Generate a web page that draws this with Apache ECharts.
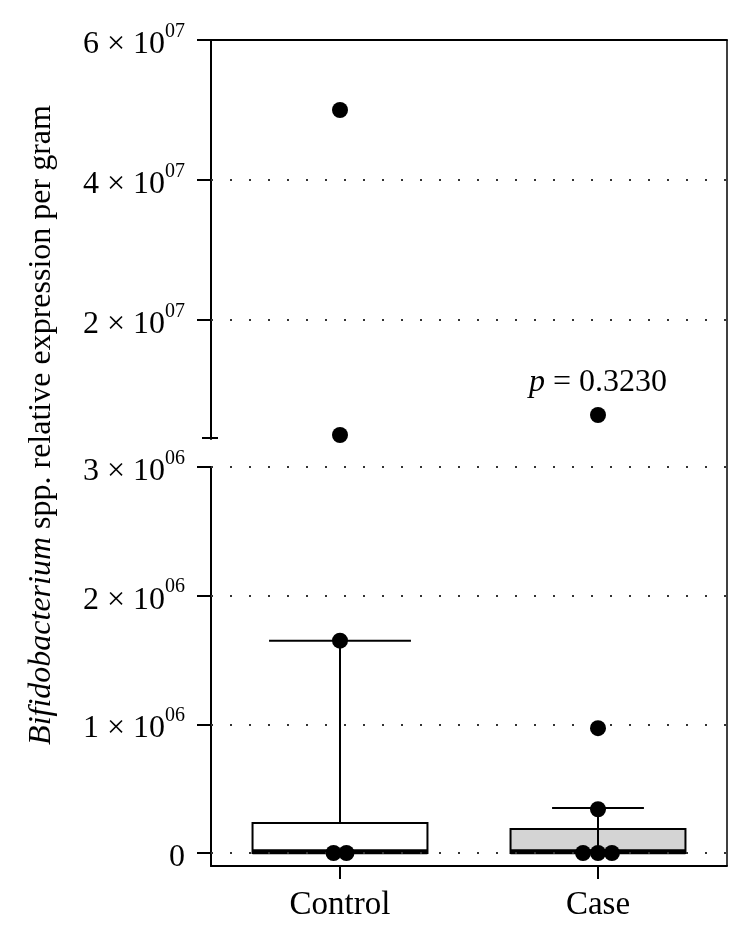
<!DOCTYPE html>
<html><head><meta charset="utf-8">
<script src="https://cdn.jsdelivr.net/npm/echarts@6/dist/echarts.min.js"></script>
<style>html,body{margin:0;padding:0;background:#fff}#c{width:750px;height:936px}</style>
</head><body><div id="c"></div>
<script>
// ---- data ----
const categories = ['Control', 'Case'];
const boxLow    = [0, 0];
const boxQ1     = [0, 0];
const boxMedian = [1e4, 1e4];
const boxQ3     = [2.33e5, 1.86e5];
const boxHigh   = [1.65e6, 3.5e5];
const controlValues = [0, 0, 1.65e6, 3.57e6, 5.0e7];
const controlJitter = [-0.025, 0.025, 0, 0, 0];
const caseValues    = [0, 0, 0, 3.4e5, 9.7e5, 6.43e6];
const caseJitter    = [-0.058, 0, 0.054, 0, 0, 0];
const upperTicks = [2e7, 4e7, 6e7];
const lowerTicks = [0, 1e6, 2e6, 3e6];
const breakValue = 3e6;
const upperMax = 6e7;
const lowerMin = -1.01e5;
const pText = '0.3230';

// ---- layout / style ----
const L = 211, R = 727, T0 = 40, B0 = 439, T1 = 467, B1 = 866;
const FONT = '"Liberation Serif", "DejaVu Serif", serif';
const boxFill = ['#ffffff', '#d4d4d4'];
const capHalf = [0.275, 0.178];
const boxHalf = 0.339;
const whiskerFromMedian = [false, true];

function fmt(v) {
  if (v === 0) return '{a|0}';
  const e = Math.floor(Math.log10(v) + 1e-9);
  const m = Math.round(v / Math.pow(10, e));
  return '{a|' + m + ' \u00d7 10}{b|' + String(e).padStart(2, '0') + '}';
}
const richLab = {
  a: { fontFamily: FONT, fontSize: 32, color: '#000', lineHeight: 46 },
  b: { fontFamily: FONT, fontSize: 20, color: '#000', verticalAlign: 'top', lineHeight: 46 }
};

const upperPts = [], lowerPts = [];
function addPts(values, jitter, ci) {
  values.forEach((v, k) => {
    const p = [ci + 1 + jitter[k], v];
    (v > breakValue ? upperPts : lowerPts).push({ value: p, ci: ci });
  });
}
addPts(controlValues, controlJitter, 0);
addPts(caseValues, caseJitter, 1);
// p-value label on the highest Case point
let topCase = null;
upperPts.forEach(d => { if (d.ci === 1 && (!topCase || d.value[1] > topCase.value[1])) topCase = d; });
if (topCase) {
  topCase.label = {
    show: true, position: 'top', distance: 8,
    formatter: '{i|p}{n| = ' + pText + '}',
    rich: {
      i: { fontFamily: FONT, fontStyle: 'italic', fontSize: 32, color: '#000' },
      n: { fontFamily: FONT, fontSize: 32, color: '#000' }
    }
  };
}

const dotted = { color: '#333', width: 2, type: [2, 17] };
const axisLineStyle = { show: true, onZero: false, lineStyle: { color: '#000', width: 2 } };

const boxData = categories.map((c, i) => [i + 1, boxLow[i], boxQ1[i], boxMedian[i], boxQ3[i], boxHigh[i]]);

const chart = echarts.init(document.getElementById('c'), null, { renderer: 'canvas' });
chart.setOption({
  animation: false,
  backgroundColor: '#fff',
  grid: [
    { left: L, width: R - L, top: T0, height: B0 - T0 },
    { left: L, width: R - L, top: T1, height: B1 - T1 }
  ],
  xAxis: [
    { gridIndex: 0, type: 'value', min: 0.5, max: 2.5, position: 'top',
      axisLine: axisLineStyle, axisTick: { show: false }, axisLabel: { show: false }, splitLine: { show: false } },
    { gridIndex: 1, type: 'value', min: 0.5, max: 2.5, position: 'bottom',
      axisLine: axisLineStyle,
      axisTick: { show: true, length: 13, lineStyle: { color: '#000', width: 2 }, customValues: [1, 2] },
      axisLabel: { show: true, customValues: [1, 2], margin: 23,
        formatter: v => categories[Math.round(v) - 1] || '',
        fontFamily: FONT, fontSize: 33, color: '#000' },
      splitLine: { show: false } }
  ],
  yAxis: [
    { gridIndex: 0, type: 'value', min: breakValue, max: upperMax,
      axisLine: axisLineStyle,
      axisTick: { show: true, length: 14, lineStyle: { color: '#000', width: 2 }, customValues: upperTicks },
      axisLabel: { show: true, customValues: upperTicks, margin: 26, padding: [9, 0, 0, 0], formatter: fmt, rich: richLab },
      splitLine: { show: false } },
    { gridIndex: 1, type: 'value', min: lowerMin, max: breakValue,
      axisLine: axisLineStyle,
      axisTick: { show: true, length: 14, lineStyle: { color: '#000', width: 2 }, customValues: lowerTicks },
      axisLabel: { show: true, customValues: lowerTicks, margin: 26, padding: [9, 0, 0, 0], formatter: fmt, rich: richLab },
      splitLine: { show: false } }
  ],
  series: [
    { type: 'line', xAxisIndex: 0, yAxisIndex: 0, data: [], z: 1, silent: true,
      markLine: { silent: true, symbol: 'none', label: { show: false }, lineStyle: dotted,
        data: upperTicks.filter(v => v < upperMax).map(v => ({ yAxis: v })) } },
    { type: 'line', xAxisIndex: 1, yAxisIndex: 1, data: [], z: 1, silent: true,
      markLine: { silent: true, symbol: 'none', label: { show: false }, lineStyle: dotted,
        data: lowerTicks.map(v => ({ yAxis: v })) } },
    { type: 'custom', xAxisIndex: 1, yAxisIndex: 1, z: 3, data: boxData,
      encode: { x: 0, y: [1, 2, 3, 4, 5] },
      renderItem: function (params, api) {
        const i = params.dataIndex;
        const x = api.value(0);
        const q1 = api.value(2), med = api.value(3), q3 = api.value(4), hi = api.value(5);
        const tl = api.coord([x - boxHalf, q3]);
        const br = api.coord([x + boxHalf, q1]);
        const ws = api.coord([x, whiskerFromMedian[i] ? med : q3]);
        const we = api.coord([x, hi]);
        const c0 = api.coord([x - capHalf[i], hi]);
        const c1 = api.coord([x + capHalf[i], hi]);
        const m0 = api.coord([x - boxHalf, med]);
        const m1 = api.coord([x + boxHalf, med]);
        return { type: 'group', children: [
          { type: 'rect', shape: { x: tl[0], y: tl[1], width: br[0] - tl[0], height: br[1] - tl[1] },
            style: { fill: boxFill[i], stroke: '#000', lineWidth: 2 } },
          { type: 'line', shape: { x1: ws[0], y1: ws[1], x2: we[0], y2: we[1] }, style: { stroke: '#000', lineWidth: 2 } },
          { type: 'line', shape: { x1: c0[0], y1: c0[1], x2: c1[0], y2: c1[1] }, style: { stroke: '#000', lineWidth: 2 } },
          { type: 'line', shape: { x1: m0[0], y1: m0[1], x2: m1[0], y2: m1[1] }, style: { stroke: '#000', lineWidth: 5 } }
        ] };
      } },
    { type: 'scatter', xAxisIndex: 0, yAxisIndex: 0, z: 5, symbolSize: 16,
      itemStyle: { color: '#000', opacity: 1 }, data: upperPts },
    { type: 'scatter', xAxisIndex: 1, yAxisIndex: 1, z: 5, symbolSize: 16,
      itemStyle: { color: '#000', opacity: 1 }, data: lowerPts }
  ],
  graphic: [
    { type: 'line', shape: { x1: R, y1: T0, x2: R, y2: B1 }, style: { stroke: '#000', lineWidth: 1.5 }, z: 10 },
    { type: 'line', shape: { x1: L - 9, y1: B0 - 1, x2: L + 7, y2: B0 - 1 }, style: { stroke: '#000', lineWidth: 2 }, z: 10 },
    { type: 'text', x: 42, y: 425, rotation: Math.PI / 2,
      style: {
        text: '{i|Bifidobacterium}{n| spp. relative expression per gram}',
        align: 'center', verticalAlign: 'middle',
        rich: {
          i: { fontFamily: FONT, fontStyle: 'italic', fontSize: 32, fill: '#000' },
          n: { fontFamily: FONT, fontSize: 32, fill: '#000' }
        }
      } }
  ]
});
</script></body></html>
